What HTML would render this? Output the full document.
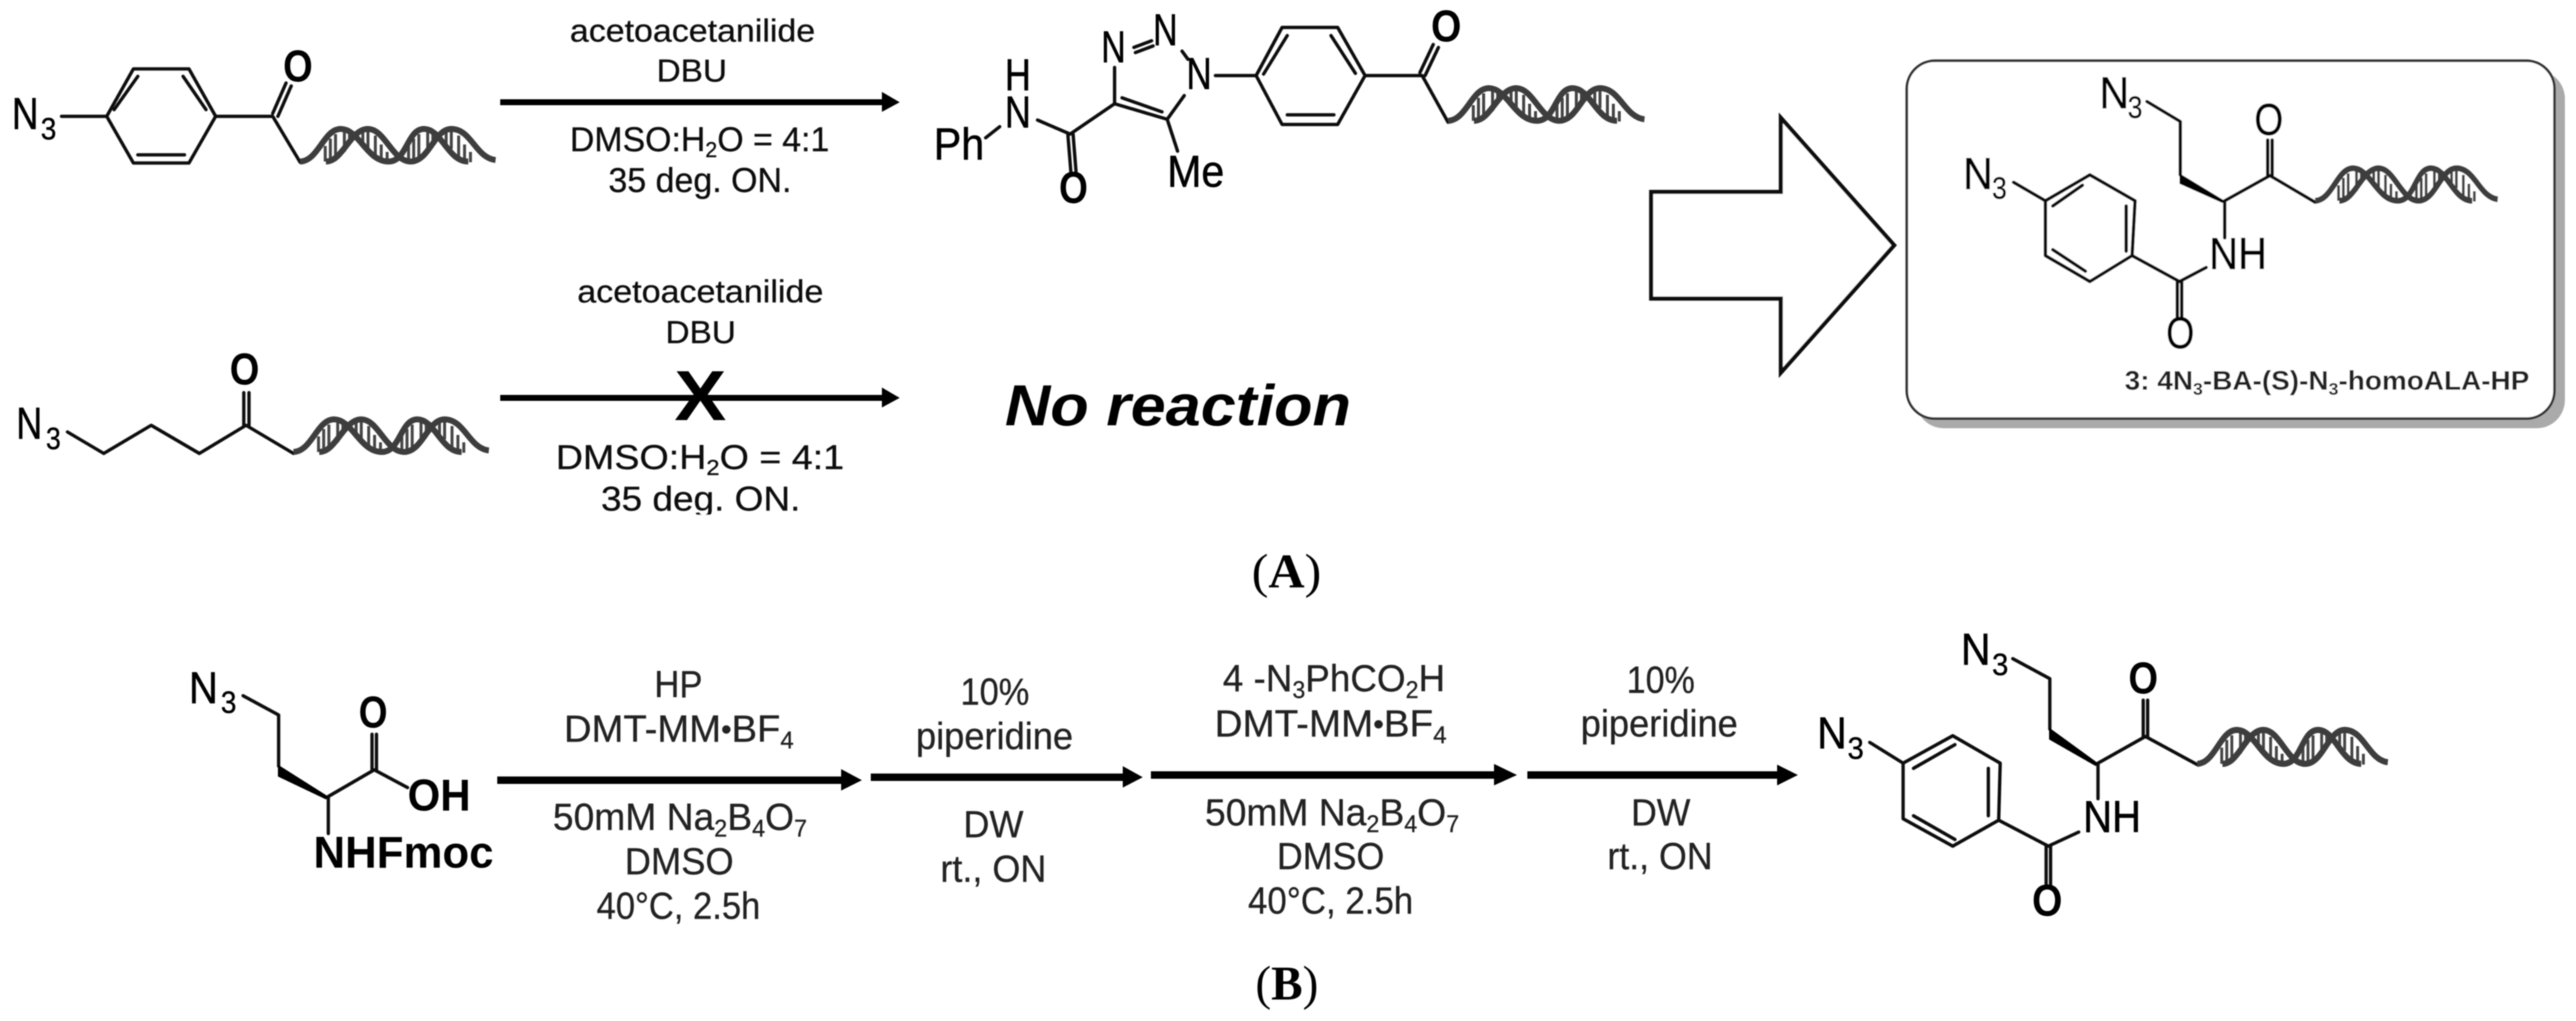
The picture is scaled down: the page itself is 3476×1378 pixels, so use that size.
<!DOCTYPE html>
<html><head><meta charset="utf-8">
<style>
html,body{margin:0;padding:0;background:#fff;width:3476px;height:1378px;overflow:hidden}
svg{display:block}
text{font-family:"Liberation Sans",sans-serif;fill:#111}
.b{fill:none;stroke:#111;stroke-width:4.500;stroke-linecap:round;stroke-linejoin:round}
.r1{font-size:43px;stroke:#111;stroke-width:.4}.r1b{font-size:46px;stroke:#111;stroke-width:.4}
.r2{font-size:51px;fill:#222;stroke:#222;stroke-width:.4}
.l{font-size:60px;fill:#000;stroke:#000;stroke-width:.7}.lb{font-size:60px;font-weight:bold;fill:#000}
.s3{font-size:42px;fill:#000;stroke:#000;stroke-width:.5}
.cap{font-family:"Liberation Serif",serif;font-size:66px;fill:#000}
.cap tspan{font-weight:bold}
</style></head><body>
<svg width="3476" height="1378" viewBox="0 0 3476 1378" xmlns="http://www.w3.org/2000/svg">
<defs>
<filter id="s" x="-2%" y="-2%" width="104%" height="104%"><feGaussianBlur stdDeviation="0.9"/></filter>
<g id="dna">
<path d="M34 26V47M41 16V47M48 10V46M60 6V34M67 5V22M85 6V24M92 6V30M102 12V40M110 24V48M118 34V48M147 26V47M154 16V47M161 10V46M173 6V34M180 5V22M198 6V24M205 6V30M215 12V40M223 24V48M231 34V48" fill="none" stroke="#444" stroke-width="4"/>
<path d="M0 47C25 46 32 3 55 3C80 3 90 47 120 47C145 47 145 3 168 3C192 3 200 47 228 47" fill="none" stroke="#3c3c3c" stroke-width="8"/>
<path d="M35 47C58 47 68 3 92 3C115 3 125 47 150 47C175 47 182 3 205 3C232 3 238 42 265 45" fill="none" stroke="#3c3c3c" stroke-width="8"/>
</g>
</defs>
<g filter="url(#s)">
<!-- Molecule 1 -->
<path class="b" d="M83 157H144L180 93H255L291 157L255 220H180L144 157M154 148L186 103M247 103L278 148M186 209H249M291 157H368L405 219M368 153L386 112M375 157L393 116"/>
<use href="#dna" transform="translate(405,171) scale(0.995,1)"/>
<text class="l" x="16" y="174" textLength="36" lengthAdjust="spacingAndGlyphs">N</text><text class="s3" x="55" y="188" textLength="21" lengthAdjust="spacingAndGlyphs">3</text>
<text class="lb" x="382" y="110" textLength="40" lengthAdjust="spacingAndGlyphs">O</text>
<!-- Reaction 1 -->
<path d="M675 134H1190V124L1214 138L1190 151V142H675Z" fill="#000"/>
<text class="r1" x="769" y="56" textLength="331" lengthAdjust="spacingAndGlyphs">acetoacetanilide</text>
<text class="r1" x="886" y="110" textLength="95" lengthAdjust="spacingAndGlyphs">DBU</text>
<text class="r1b" x="769" y="204" textLength="350" lengthAdjust="spacingAndGlyphs">DMSO:H<tspan dy="8" font-size="29">2</tspan><tspan dy="-8">O = 4:1</tspan></text>
<text class="r1b" x="821" y="259" textLength="247" lengthAdjust="spacingAndGlyphs">35 deg. ON.</text>
<!-- Triazole product -->
<path class="b" d="M1330 186L1349 171M1400 162L1444 181L1504 140V91M1441 182L1445 232M1448 181L1452 232M1530 64L1554 55M1532 71L1556 62M1595 69L1603 80M1598 129L1575 161L1504 140M1568 151L1514 132M1575 161L1589 204M1640 102H1695L1730 37H1805L1842 102L1805 168H1730L1695 102M1705 100L1737 48M1796 48L1829 99M1737 155H1800M1842 102H1919L1954 165M1916 98L1934 60M1923 102L1941 64"/>
<use href="#dna" transform="translate(1954,116) scale(1,1)"/>
<text class="l" x="1260" y="215" textLength="68" lengthAdjust="spacingAndGlyphs">Ph</text>
<text class="l" x="1356" y="172" textLength="35" lengthAdjust="spacingAndGlyphs">N</text>
<text class="l" x="1356" y="122" textLength="35" lengthAdjust="spacingAndGlyphs">H</text>
<text class="l" x="1486" y="84" textLength="33" lengthAdjust="spacingAndGlyphs">N</text>
<text class="l" x="1556" y="61" textLength="33" lengthAdjust="spacingAndGlyphs">N</text>
<text class="l" x="1601" y="120" textLength="34" lengthAdjust="spacingAndGlyphs">N</text>
<text class="l" x="1575" y="252" textLength="77" lengthAdjust="spacingAndGlyphs">Me</text>
<text class="lb" x="1429" y="274" textLength="39" lengthAdjust="spacingAndGlyphs">O</text>
<text class="lb" x="1931" y="56" textLength="41" lengthAdjust="spacingAndGlyphs">O</text>
<!-- Molecule 2 -->
<path class="b" d="M91 583L140 612L204 574L269 612L332 574L396 612M329 574V530M336 574V530"/>
<use href="#dna" transform="translate(396,563) scale(0.995,1)"/>
<text class="l" x="22" y="592" textLength="35" lengthAdjust="spacingAndGlyphs">N</text><text class="s3" x="62" y="606" textLength="20" lengthAdjust="spacingAndGlyphs">3</text>
<text class="lb" x="310" y="519" textLength="40" lengthAdjust="spacingAndGlyphs">O</text>
<!-- Reaction 2 -->
<path d="M675 533H1190V523L1214 537L1190 550V541H675Z" fill="#000"/>
<text x="910" y="567" style="font-size:96px;font-weight:bold;fill:#000" textLength="70" lengthAdjust="spacingAndGlyphs">X</text>
<text class="r1" x="779" y="408" textLength="332" lengthAdjust="spacingAndGlyphs">acetoacetanilide</text>
<text class="r1" x="898" y="463" textLength="95" lengthAdjust="spacingAndGlyphs">DBU</text>
<text class="r1b" x="750" y="633" textLength="389" lengthAdjust="spacingAndGlyphs">DMSO:H<tspan dy="8" font-size="29">2</tspan><tspan dy="-8">O = 4:1</tspan></text>
<text class="r1b" x="811" y="689" textLength="269" lengthAdjust="spacingAndGlyphs">35 deg. ON.</text>
<rect x="740" y="695" width="400" height="20" fill="#fff"/>
<text x="1356" y="574" style="font-size:78px;font-weight:bold;font-style:italic;fill:#000" textLength="467" lengthAdjust="spacingAndGlyphs">No reaction</text>
<!-- Big arrow -->
<path d="M2228 259H2403V159L2556 331L2403 503V403H2228Z" fill="#fff" stroke="#111" stroke-width="5.500"/>
<!-- Box -->
<rect x="2585" y="95" width="876" height="483" rx="38" fill="#aaa"/>
<rect x="2573" y="82" width="874" height="483" rx="38" fill="#fff" stroke="#333" stroke-width="3.500"/>
<path class="b" d="M2897 137L2942 164V236M3002 271V321M3002 271L3063 237L3124 273M3060 237V189M3066 237V189M2820 236L2881 271L2877 345L2820 380L2760 345V271L2820 236M2770 278L2810 250M2869 278V339M2770 337L2814 366M2717 246L2760 271M2877 345L2941 380L2977 361M2938 380V428M2944 380V428"/>
<path d="M3002 271L2941 234V248L2999 274Z" fill="#000"/>
<use href="#dna" transform="translate(3124,224) scale(0.93,1)"/>
<text class="l" x="2833" y="146" textLength="40" lengthAdjust="spacingAndGlyphs">N</text><text class="s3" x="2871" y="159" textLength="20" lengthAdjust="spacingAndGlyphs">3</text>
<text class="l" x="2649" y="255" textLength="40" lengthAdjust="spacingAndGlyphs">N</text><text class="s3" x="2688" y="268" textLength="20" lengthAdjust="spacingAndGlyphs">3</text>
<text class="l" x="2981" y="363" textLength="78" lengthAdjust="spacingAndGlyphs">NH</text>
<text class="l" x="3042" y="182" textLength="39" lengthAdjust="spacingAndGlyphs">O</text>
<text class="l" x="2923" y="470" textLength="38" lengthAdjust="spacingAndGlyphs">O</text>
<text x="2867" y="526" style="font-size:36px;font-weight:bold;fill:#222" textLength="546" lengthAdjust="spacingAndGlyphs">3: 4N<tspan dy="7" font-size="23">3</tspan><tspan dy="-7">-BA-(S)-N</tspan><tspan dy="7" font-size="23">3</tspan><tspan dy="-7">-homoALA-HP</tspan></text>
<text class="cap" x="1689" y="793" textLength="94" lengthAdjust="spacingAndGlyphs">(<tspan>A</tspan>)</text>
<!-- Panel B starting material -->
<path class="b" d="M328 939L376 965V1034M443 1075V1125M443 1075L505 1039L550 1063M502 1039V991M508 1039V991"/>
<path d="M443 1075L375 1032V1048L440 1079Z" fill="#000"/>
<text class="l" x="255" y="949" textLength="39" lengthAdjust="spacingAndGlyphs">N</text><text class="s3" x="298" y="962" textLength="21" lengthAdjust="spacingAndGlyphs">3</text>
<text class="lb" x="484" y="982" textLength="39" lengthAdjust="spacingAndGlyphs">O</text>
<text class="lb" x="550" y="1094" textLength="85" lengthAdjust="spacingAndGlyphs">OH</text>
<text class="lb" x="423" y="1171" textLength="243" lengthAdjust="spacingAndGlyphs">NHFmoc</text>
<!-- Panel B arrows -->
<path d="M671 1048H1135V1038L1163 1053L1135 1067V1058H671Z" fill="#000"/>
<path d="M1175 1044H1515V1034L1542 1049L1515 1063V1054H1175Z" fill="#000"/>
<path d="M1553 1041H2016V1031L2047 1046L2016 1060V1051H1553Z" fill="#000"/>
<path d="M2061 1041H2398V1032L2426 1046L2398 1060V1051H2061Z" fill="#000"/>
<!-- Step 1 -->
<text class="r2" x="883" y="941" textLength="65" lengthAdjust="spacingAndGlyphs">HP</text>
<text class="r2" x="761" y="1001" textLength="310" lengthAdjust="spacingAndGlyphs">DMT-MM<tspan font-size="40" dy="-3">•</tspan><tspan dy="3">BF</tspan><tspan dy="9" font-size="32">4</tspan></text>
<text class="r2" x="746" y="1120" textLength="343" lengthAdjust="spacingAndGlyphs">50mM Na<tspan dy="9" font-size="32">2</tspan><tspan dy="-9">B</tspan><tspan dy="9" font-size="32">4</tspan><tspan dy="-9">O</tspan><tspan dy="9" font-size="32">7</tspan></text>
<text class="r2" x="843" y="1180" textLength="147" lengthAdjust="spacingAndGlyphs">DMSO</text>
<text class="r2" x="805" y="1240" textLength="221" lengthAdjust="spacingAndGlyphs">40°C, 2.5h</text>
<!-- Step 2 -->
<text class="r2" x="1296" y="951" textLength="93" lengthAdjust="spacingAndGlyphs">10%</text>
<text class="r2" x="1236" y="1011" textLength="212" lengthAdjust="spacingAndGlyphs">piperidine</text>
<text class="r2" x="1300" y="1130" textLength="81" lengthAdjust="spacingAndGlyphs">DW</text>
<text class="r2" x="1269" y="1190" textLength="143" lengthAdjust="spacingAndGlyphs">rt., ON</text>
<!-- Step 3 -->
<text class="r2" x="1650" y="933" textLength="300" lengthAdjust="spacingAndGlyphs">4 -N<tspan dy="9" font-size="32">3</tspan><tspan dy="-9">PhCO</tspan><tspan dy="9" font-size="32">2</tspan><tspan dy="-9">H</tspan></text>
<text class="r2" x="1639" y="994" textLength="313" lengthAdjust="spacingAndGlyphs">DMT-MM<tspan font-size="40" dy="-3">•</tspan><tspan dy="3">BF</tspan><tspan dy="9" font-size="32">4</tspan></text>
<text class="r2" x="1626" y="1114" textLength="343" lengthAdjust="spacingAndGlyphs">50mM Na<tspan dy="9" font-size="32">2</tspan><tspan dy="-9">B</tspan><tspan dy="9" font-size="32">4</tspan><tspan dy="-9">O</tspan><tspan dy="9" font-size="32">7</tspan></text>
<text class="r2" x="1723" y="1173" textLength="145" lengthAdjust="spacingAndGlyphs">DMSO</text>
<text class="r2" x="1684" y="1233" textLength="223" lengthAdjust="spacingAndGlyphs">40°C, 2.5h</text>
<!-- Step 4 -->
<text class="r2" x="2195" y="935" textLength="92" lengthAdjust="spacingAndGlyphs">10%</text>
<text class="r2" x="2133" y="994" textLength="212" lengthAdjust="spacingAndGlyphs">piperidine</text>
<text class="r2" x="2201" y="1114" textLength="80" lengthAdjust="spacingAndGlyphs">DW</text>
<text class="r2" x="2169" y="1173" textLength="142" lengthAdjust="spacingAndGlyphs">rt., ON</text>
<!-- Panel B product -->
<path class="b" d="M2716 889L2766 916V984M2831 1030V1078M2831 1030L2895 994L2965 1032M2892 994V945M2898 994V945M2635 993L2699 1030L2697 1107L2635 1142L2568 1105V1030L2635 993M2582 1037L2638 1005M2683 1037V1101M2582 1101L2638 1133M2523 1002L2568 1030M2697 1107L2764 1142L2805 1123M2761 1142V1194M2767 1142V1194"/>
<path d="M2831 1030L2765 982V998L2828 1034Z" fill="#000"/>
<use href="#dna" transform="translate(2965,982) scale(0.97,1.04)"/>
<text class="l" x="2646" y="897" textLength="40" lengthAdjust="spacingAndGlyphs">N</text><text class="s3" x="2688" y="911" textLength="22" lengthAdjust="spacingAndGlyphs">3</text>
<text class="l" x="2452" y="1010" textLength="40" lengthAdjust="spacingAndGlyphs">N</text><text class="s3" x="2493" y="1024" textLength="22" lengthAdjust="spacingAndGlyphs">3</text>
<text class="lb" x="2872" y="936" textLength="40" lengthAdjust="spacingAndGlyphs">O</text>
<text class="l" x="2811" y="1123" textLength="78" lengthAdjust="spacingAndGlyphs">NH</text>
<text class="lb" x="2742" y="1236" textLength="41" lengthAdjust="spacingAndGlyphs">O</text>
<text class="cap" x="1694" y="1349" textLength="85" lengthAdjust="spacingAndGlyphs">(<tspan>B</tspan>)</text>
</g>
</svg>
</body></html>
